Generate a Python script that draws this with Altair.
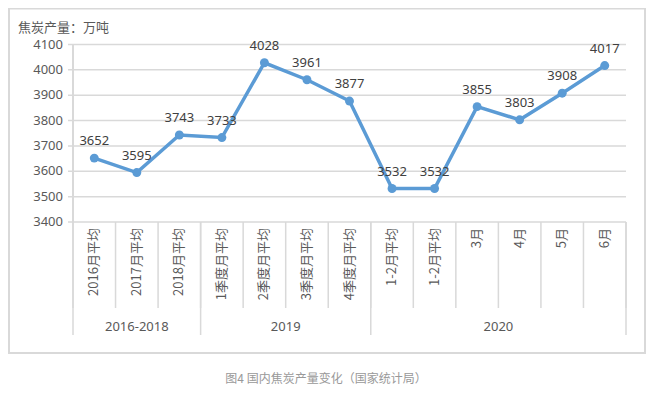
import altair as alt
import pandas as pd

categories = ["2016月平均", "2017月平均", "2018月平均", "1季度月平均", "2季度月平均",
              "3季度月平均", "4季度月平均", "1-2月平均", "1-2月平均", "3月", "4月", "5月", "6月"]
values = [3652, 3595, 3743, 3733, 4028, 3961, 3877, 3532, 3532, 3855, 3803, 3908, 4017]
groups = ["2016-2018", "2019", "2020"]
group_sizes = [3, 4, 6]
y_ticks = [3400, 3500, 3600, 3700, 3800, 3900, 4000, 4100]
y_title = "焦炭产量：万吨"
caption = "图4 国内焦炭产量变化（国家统计局）"

W = 553
H = 177.5
GRID = "#d9d9d9"
TXT = "#595959"
FONT = "Noto Sans CJK SC"
NUMFONT = "Noto Sans"

df = pd.DataFrame({"idx": list(range(len(values))), "cat": categories, "val": values})
tick_df = pd.DataFrame({"v": y_ticks})

cat_bounds = pd.DataFrame({"b": [i - 0.5 for i in range(len(values) + 1)]})
gb = [-0.5]
for s in group_sizes:
    gb.append(gb[-1] + s)
grp_bounds = pd.DataFrame({"b": gb})
grp_df = pd.DataFrame({"g": groups, "c": [(gb[i] + gb[i + 1]) / 2 for i in range(len(groups))]})

xs = alt.Scale(domain=[-0.5, len(values) - 0.5], nice=False, zero=False)
ys = alt.Scale(domain=[3400, 4100], nice=False, zero=False)


def X(f):
    return alt.X(f, scale=xs, axis=None)


def Y(f):
    return alt.Y(f, scale=ys, axis=None)


base = alt.Chart(df)

# manual y axis: grid lines, ticks, labels, domain line
grid = alt.Chart(tick_df).mark_rule(color=GRID, strokeWidth=1.5).encode(
    y=Y("v:Q"), x=alt.value(-5), x2=alt.value(W))
ylab = alt.Chart(tick_df).mark_text(font=NUMFONT, fontSize=13, color=TXT, align="right",
                                    baseline="middle").encode(
    y=Y("v:Q"), x=alt.value(-10), text="v:Q")
ydom = alt.Chart(tick_df).mark_rule(color=GRID, strokeWidth=1.5).encode(
    x=alt.value(0), y=alt.value(0), y2=alt.value(H))

line = base.mark_line(color="#5B9BD5", strokeWidth=3.5).encode(x=X("idx:Q"), y=Y("val:Q"))
pts = base.mark_circle(color="#5B9BD5", size=80, opacity=1).encode(x=X("idx:Q"), y=Y("val:Q"))
lbl = base.mark_text(font=NUMFONT, fontSize=13, color="#404040", dy=-17, baseline="middle").encode(
    x=X("idx:Q"), y=Y("val:Q"), text="val:Q")

cat_txt = base.mark_text(font=FONT, fontSize=13, color=TXT, angle=270, align="right",
                         baseline="middle").encode(
    x=X("idx:Q"), y=alt.value(H + 6), text="cat:N")

cat_sep = alt.Chart(cat_bounds).mark_rule(color=GRID, strokeWidth=1.5).encode(
    x=X("b:Q"), y=alt.value(H), y2=alt.value(H + 86))
grp_sep = alt.Chart(grp_bounds).mark_rule(color=GRID, strokeWidth=1.5).encode(
    x=X("b:Q"), y=alt.value(H), y2=alt.value(H + 113))
grp_txt = alt.Chart(grp_df).mark_text(font=NUMFONT, fontSize=13, color=TXT, baseline="middle").encode(
    x=X("c:Q"), y=alt.value(H + 105), text="g:N")

title_df = pd.DataFrame({"t": [y_title]})
ytitle = alt.Chart(title_df).mark_text(font=FONT, fontSize=13, color=TXT, align="left",
                                       baseline="middle").encode(
    x=alt.value(-55), y=alt.value(-17), text="t:N")

cap_df = pd.DataFrame({"t": [caption]})
cap = alt.Chart(cap_df).mark_text(font=FONT, fontSize=12, color="#999999", align="center",
                                  baseline="middle").encode(
    x=alt.value(253), y=alt.value(334), text="t:N")

BL, BR, BT, BB = -64, 572, -36, 308.5
bstyle = dict(color=GRID, strokeWidth=2, strokeCap="square")
b_top = alt.Chart(title_df).mark_rule(**bstyle).encode(x=alt.value(BL), x2=alt.value(BR), y=alt.value(BT))
b_bot = alt.Chart(title_df).mark_rule(**bstyle).encode(x=alt.value(BL), x2=alt.value(BR), y=alt.value(BB))
b_lft = alt.Chart(title_df).mark_rule(**bstyle).encode(x=alt.value(BL), y=alt.value(BT), y2=alt.value(BB))
b_rgt = alt.Chart(title_df).mark_rule(**bstyle).encode(x=alt.value(BR), y=alt.value(BT), y2=alt.value(BB))

chart = alt.layer(grid, ydom, ylab, b_top, b_bot, b_lft, b_rgt, cat_sep, grp_sep, line, pts, lbl,
                  cat_txt, grp_txt, ytitle, cap).properties(
    width=W, height=H,
    autosize=alt.AutoSizeParams(type="none"),
    padding={"left": 65, "top": 36.5, "right": 20, "bottom": 163},
).configure_view(stroke=None)

chart.save("out.html", embed_options={"renderer": "svg", "actions": False})
